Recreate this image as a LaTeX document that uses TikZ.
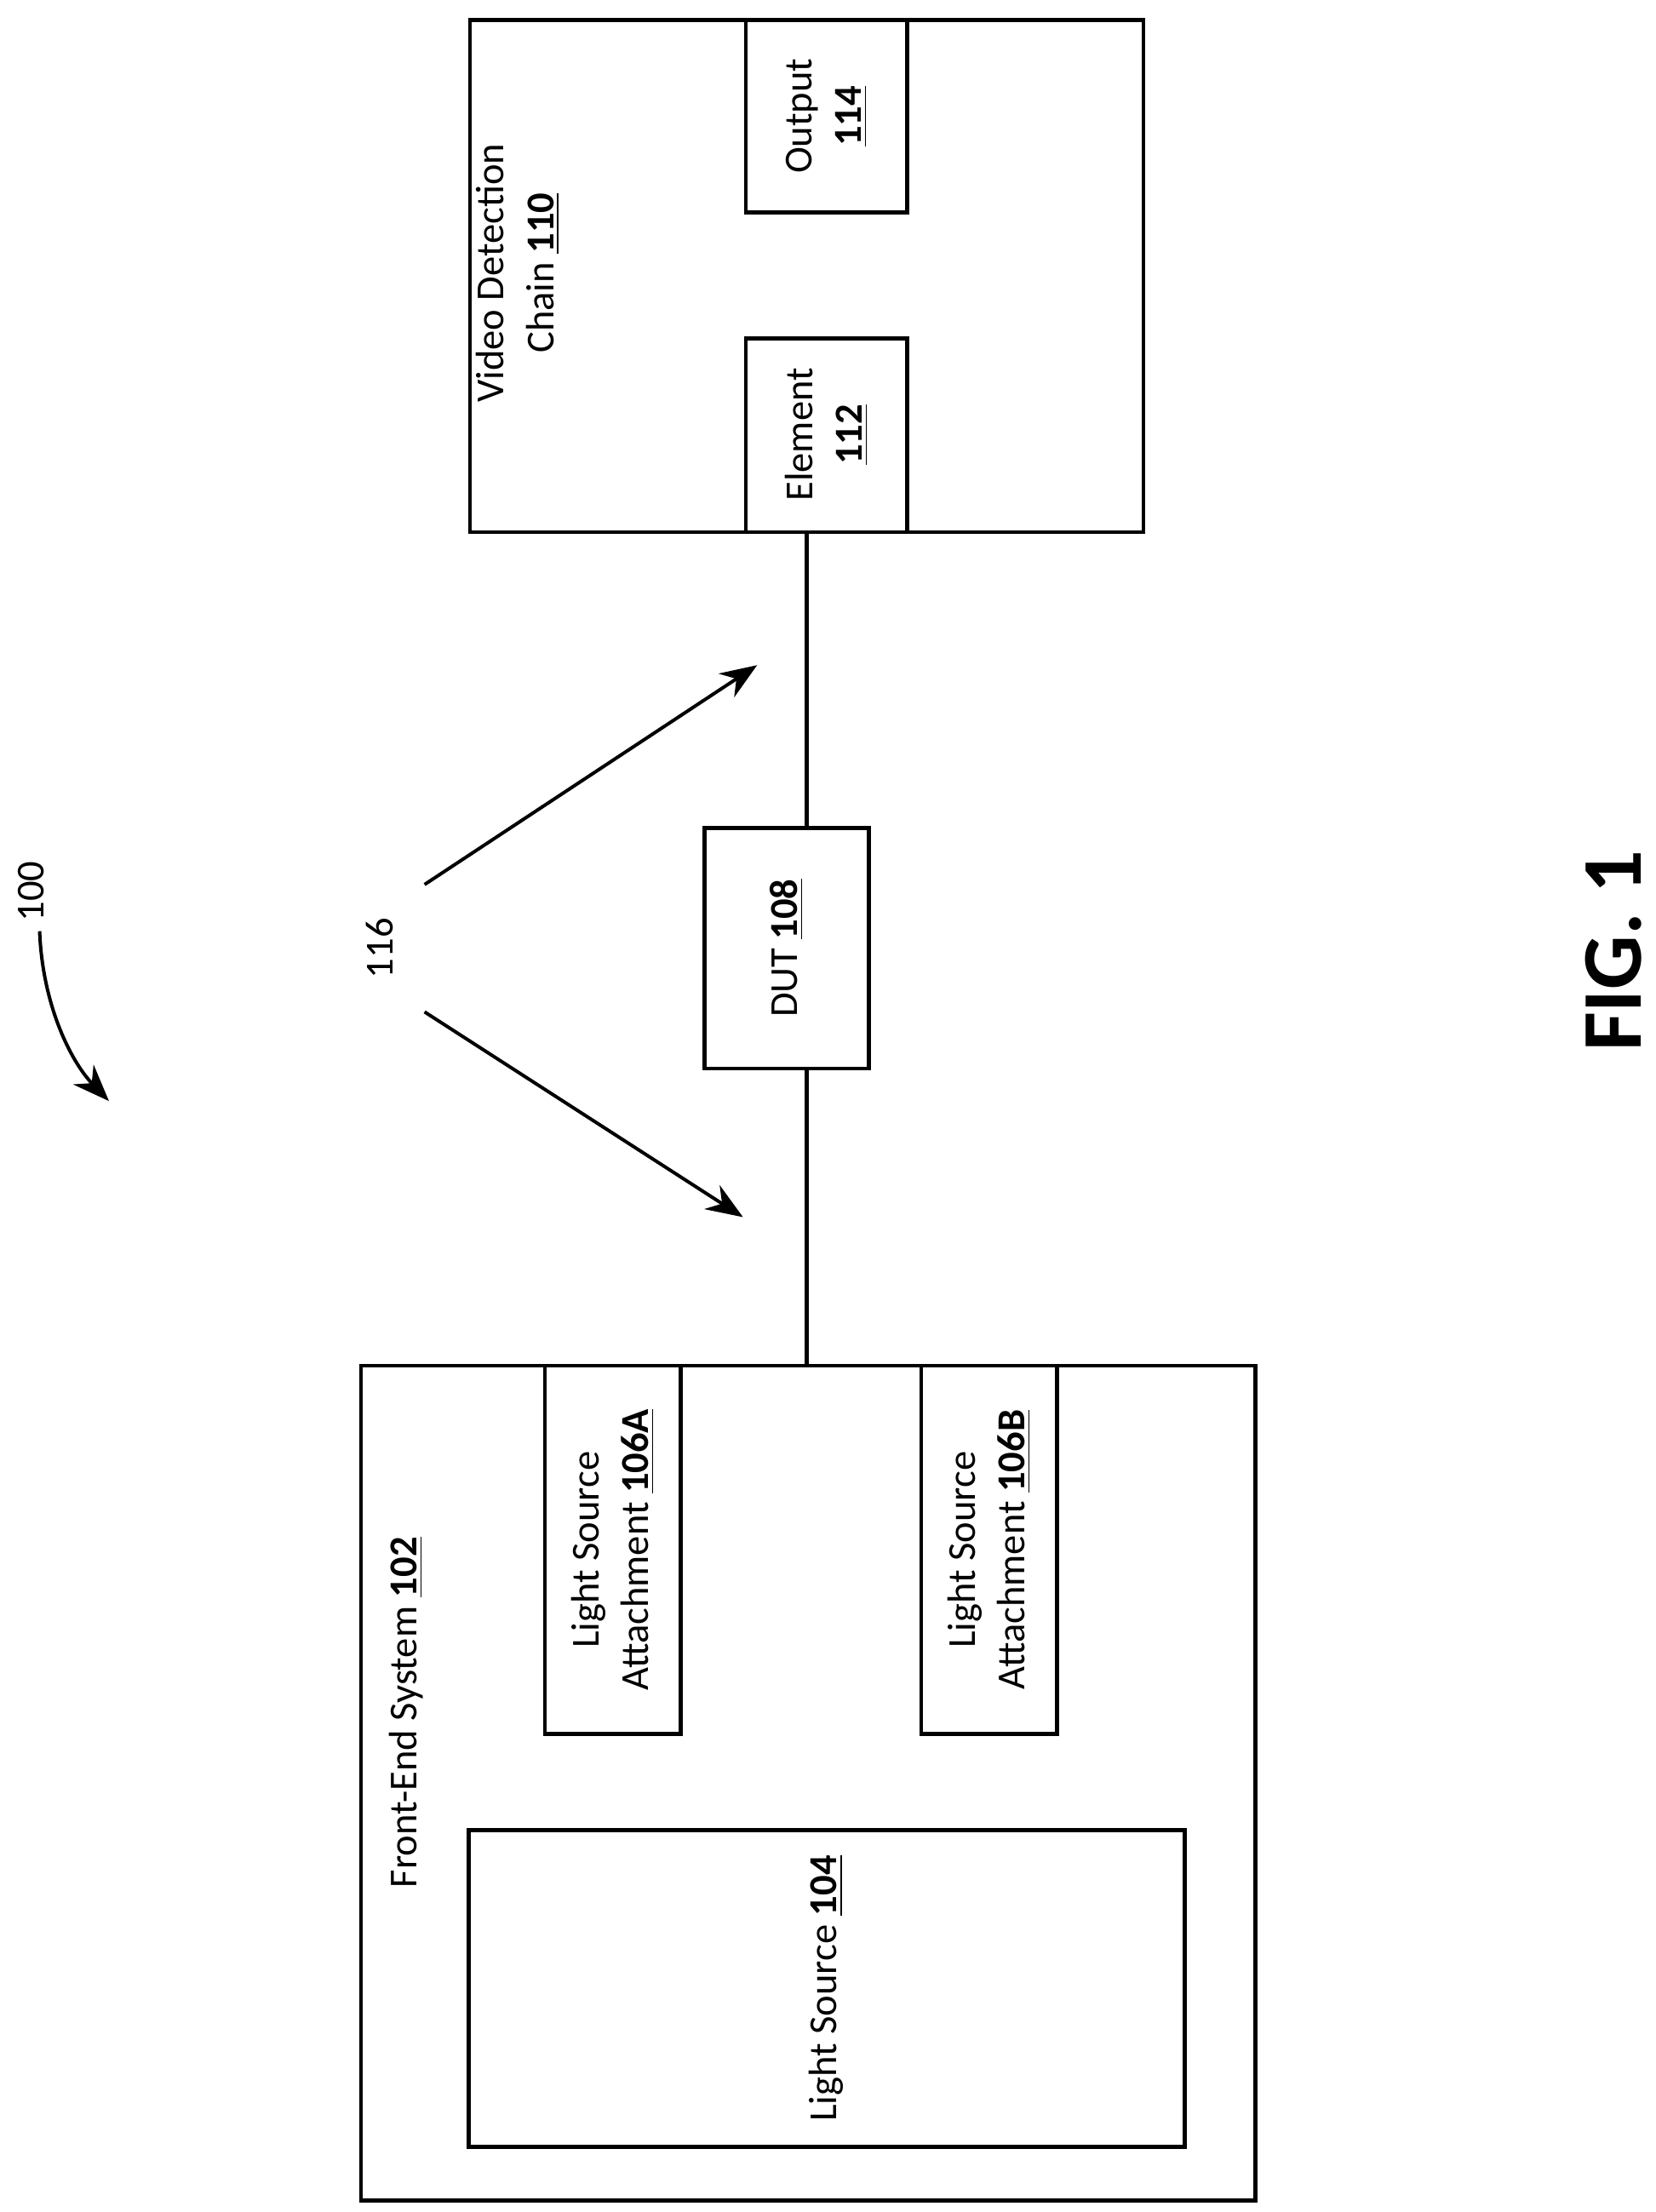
\documentclass[tikz,border=0pt]{standalone}
\usepackage{fontspec}
\setmainfont{Carlito}
\usetikzlibrary{arrows.meta}
\newcommand{\refnum}[1]{\textbf{\underline{#1}}}
\tikzset{
  blk/.style={draw,line width=1.4pt},
  lbl/.style={rotate=90,align=center,inner sep=0pt,font=\fontsize{14}{17.5}\selectfont},
  wire/.style={line width=1.4pt},
  ptr/.style={line width=1.2pt,-{Stealth[length=13pt,width=10pt]}}
}
\begin{document}
\begin{tikzpicture}[x=0.5pt,y=-0.5pt]
    \useasboundingbox (0,0) rectangle (1170,1563);
    % Video detection chain
    \draw[blk] (332,14) rectangle (808,376);
    \node[lbl] (vdc) at (366,193) {Video Detection\\Chain \refnum{110}};
    \draw[blk] (527,14) rectangle (641,150);
    \node[lbl] (out) at (584,82) {Output\\\refnum{114}};
    \draw[blk] (527,239) rectangle (641,376);
    \node[lbl] (elem) at (584,307) {Element\\\refnum{112}};
    \coordinate (elembot) at (570,376);
    % DUT
    \draw[blk] (498,585) rectangle (614,755);
    \node[lbl] (dut) at (556,670) {DUT \refnum{108}};
    \coordinate (duttop) at (570,585);
    \coordinate (dutbot) at (570,755);
    % Front-end system
    \draw[blk] (255,965) rectangle (887,1555);
    \node[lbl] (fes) at (287,1210) {Front-End System \refnum{102}};
    \coordinate (festop) at (570,965);
    \draw[blk] (331,1293) rectangle (837,1517);
    \node[lbl] (ls) at (584,1405) {Light Source \refnum{104}};
    \draw[blk] (385,965) rectangle (481,1225);
    \node[lbl] (lsa) at (433,1095) {Light Source\\Attachment \refnum{106A}};
    \draw[blk] (651,965) rectangle (747,1225);
    \node[lbl] (lsb) at (699,1095) {Light Source\\Attachment \refnum{106B}};
    % connections
    \draw[wire] (elembot) -- (duttop);
    \draw[wire] (dutbot) -- (festop);
    % reference 116
    \node[lbl] (n116) at (268,670) {116};
    \coordinate (a1) at (535,470);
    \coordinate (a2) at (525,860);
    \draw[ptr] (300,625) -- (a1);
    \draw[ptr] (300,715) -- (a2);
    % reference 100
    \node[lbl] (n100) at (22,630) {100};
    \coordinate (a100) at (77,778);
    \draw[ptr] (28,658) .. controls (30,710) and (50,750) .. (a100);
    % figure label
    \node[rotate=90,inner sep=0pt,font=\fontsize{30}{36}\selectfont\bfseries] (fig) at (1140,672) {FIG. 1};
\end{tikzpicture}
\end{document}
